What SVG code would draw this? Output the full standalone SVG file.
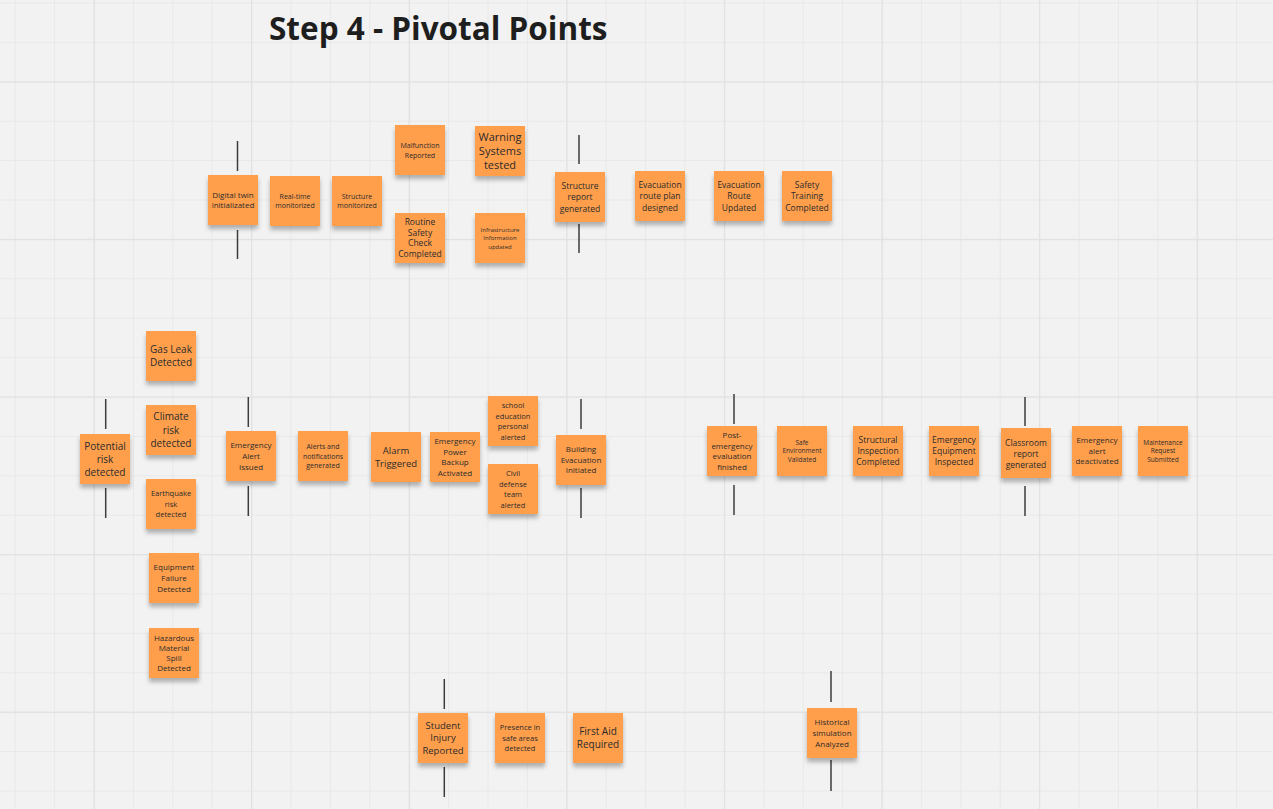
<svg xmlns="http://www.w3.org/2000/svg" width="1273" height="809" viewBox="0 0 1273 809">
<style>
.n{fill:#ff9f4c;filter:url(#sh)}
.t{font-family:"Open Sans","Noto Sans","Liberation Sans",sans-serif;fill:#2b2b2b;text-anchor:middle}
.title{font-family:"Open Sans","Noto Sans","Liberation Sans",sans-serif;font-weight:700;font-size:31.5px;fill:#1e1e1e}
.c line{stroke:#3c3c3c;stroke-width:1.5}
</style>
<defs>
<pattern id="gmin" patternUnits="userSpaceOnUse" x="14.7" y="2.5" width="39.4" height="39.4">
<rect x="0" y="0" width="1" height="39.4" fill="#e8e8e8"/><rect x="0" y="0" width="39.4" height="1" fill="#e8e8e8"/>
</pattern>
<pattern id="gmaj" patternUnits="userSpaceOnUse" x="93.5" y="81.3" width="157.6" height="157.6">
<rect x="0" y="0" width="1.2" height="157.6" fill="#e1e1e1"/><rect x="0" y="0" width="157.6" height="1.2" fill="#e1e1e1"/>
</pattern>
<filter id="sh" x="-20%" y="-20%" width="140%" height="150%">
<feDropShadow dx="0" dy="4" stdDeviation="2.2" flood-color="#000" flood-opacity="0.28"/>
</filter>
</defs>
<rect width="1273" height="809" fill="#f2f2f2"/>
<rect width="1273" height="809" fill="url(#gmin)"/>
<rect width="1273" height="809" fill="url(#gmaj)"/>
<text class="title" x="269" y="40">Step 4 - Pivotal Points</text>
<g class="c" id="connectors">
<line x1="237.5" y1="141" x2="237.5" y2="171"/><line x1="237.5" y1="230" x2="237.5" y2="259"/>
<line x1="579" y1="135" x2="579" y2="164"/><line x1="579" y1="224" x2="579" y2="253"/>
<line x1="105.7" y1="399" x2="105.7" y2="429"/><line x1="105.7" y1="488" x2="105.7" y2="518"/>
<line x1="248.3" y1="397" x2="248.3" y2="427"/><line x1="248.3" y1="486" x2="248.3" y2="516"/>
<line x1="581" y1="399" x2="581" y2="429"/><line x1="581" y1="488" x2="581" y2="518"/>
<line x1="734" y1="394" x2="734" y2="424"/><line x1="734" y1="485" x2="734" y2="515"/>
<line x1="1025" y1="397" x2="1025" y2="426"/><line x1="1025" y1="486" x2="1025" y2="516"/>
<line x1="444.3" y1="679" x2="444.3" y2="709"/><line x1="444.3" y1="767" x2="444.3" y2="797"/>
<line x1="831" y1="671" x2="831" y2="702"/><line x1="831" y1="760" x2="831" y2="791"/>
</g>
<g id="digital-twin"><rect class="n" x="208" y="175" width="50" height="50"/><text class="t" font-size="8"><tspan x="233" y="197.9">Digital twin</tspan><tspan x="233" y="207.9">initializated</tspan></text></g>
<g id="real-time"><rect class="n" x="270" y="176" width="50" height="50"/><text class="t" font-size="7"><tspan x="295" y="198.8">Real-time</tspan><tspan x="295" y="208.3">monitorized</tspan></text></g>
<g id="structure-monitorized"><rect class="n" x="332" y="176" width="50" height="50"/><text class="t" font-size="7"><tspan x="357" y="198.8">Structure</tspan><tspan x="357" y="208.3">monitorized</tspan></text></g>
<g id="malfunction"><rect class="n" x="395" y="125" width="50" height="50"/><text class="t" font-size="7"><tspan x="420" y="147.5">Malfunction</tspan><tspan x="420" y="157.5">Reported</tspan></text></g>
<g id="warning"><rect class="n" x="475" y="126" width="50" height="50"/><text class="t" font-size="11"><tspan x="500" y="141">Warning</tspan><tspan x="500" y="155">Systems</tspan><tspan x="500" y="169">tested</tspan></text></g>
<g id="routine"><rect class="n" x="395" y="213" width="50" height="50"/><text class="t" font-size="8.5"><tspan x="420" y="225.3">Routine</tspan><tspan x="420" y="235.8">Safety</tspan><tspan x="420" y="246.3">Check</tspan><tspan x="420" y="256.8">Completed</tspan></text></g>
<g id="infrastructure"><rect class="n" x="475" y="213" width="50" height="50"/><text class="t" font-size="6"><tspan x="500" y="231.9">Infrastructure</tspan><tspan x="500" y="240.2">Information</tspan><tspan x="500" y="248.5">updated</tspan></text></g>
<g id="structure-report"><rect class="n" x="555" y="172" width="50" height="50"/><text class="t" font-size="8.5"><tspan x="580" y="188.6">Structure</tspan><tspan x="580" y="200.1">report</tspan><tspan x="580" y="211.6">generated</tspan></text></g>
<g id="evac-plan"><rect class="n" x="635" y="171" width="50" height="50"/><text class="t" font-size="8.5"><tspan x="660" y="187.6">Evacuation</tspan><tspan x="660" y="199.1">route plan</tspan><tspan x="660" y="210.6">designed</tspan></text></g>
<g id="evac-updated"><rect class="n" x="714" y="171" width="50" height="50"/><text class="t" font-size="8.5"><tspan x="739" y="187.6">Evacuation</tspan><tspan x="739" y="199.1">Route</tspan><tspan x="739" y="210.6">Updated</tspan></text></g>
<g id="safety-training"><rect class="n" x="782" y="171" width="50" height="50"/><text class="t" font-size="8.5"><tspan x="807" y="187.6">Safety</tspan><tspan x="807" y="199.1">Training</tspan><tspan x="807" y="210.6">Completed</tspan></text></g>
<g id="gas-leak"><rect class="n" x="146" y="331" width="50" height="50"/><text class="t" font-size="10"><tspan x="171" y="353.3">Gas Leak</tspan><tspan x="171" y="366">Detected</tspan></text></g>
<g id="climate"><rect class="n" x="146" y="405" width="50" height="50"/><text class="t" font-size="10"><tspan x="171" y="420.3">Climate</tspan><tspan x="171" y="433.6">risk</tspan><tspan x="171" y="446.9">detected</tspan></text></g>
<g id="potential"><rect class="n" x="80" y="434" width="50" height="50"/><text class="t" font-size="10"><tspan x="105" y="449.6">Potential</tspan><tspan x="105" y="462.6">risk</tspan><tspan x="105" y="475.6">detected</tspan></text></g>
<g id="earthquake"><rect class="n" x="146" y="479" width="50" height="50"/><text class="t" font-size="7.5"><tspan x="171" y="496.2">Earthquake</tspan><tspan x="171" y="506.7">risk</tspan><tspan x="171" y="517.2">detected</tspan></text></g>
<g id="equipment-failure"><rect class="n" x="149" y="553" width="50" height="50"/><text class="t" font-size="8"><tspan x="174" y="569.9">Equipment</tspan><tspan x="174" y="580.9">Failure</tspan><tspan x="174" y="591.9">Detected</tspan></text></g>
<g id="hazardous"><rect class="n" x="149" y="628" width="50" height="50"/><text class="t" font-size="8"><tspan x="174" y="640.5">Hazardous</tspan><tspan x="174" y="650.8">Material</tspan><tspan x="174" y="661.1">Spill</tspan><tspan x="174" y="671.4">Detected</tspan></text></g>
<g id="emergency-alert"><rect class="n" x="226" y="431" width="50" height="50"/><text class="t" font-size="8"><tspan x="251" y="448.2">Emergency</tspan><tspan x="251" y="458.9">Alert</tspan><tspan x="251" y="469.6">Issued</tspan></text></g>
<g id="alerts-notifications"><rect class="n" x="298" y="431" width="50" height="50"/><text class="t" font-size="7"><tspan x="323" y="448.8">Alerts and</tspan><tspan x="323" y="458.5">notifications</tspan><tspan x="323" y="468.2">generated</tspan></text></g>
<g id="alarm"><rect class="n" x="371" y="432" width="50" height="50"/><text class="t" font-size="9.5"><tspan x="396" y="454.3">Alarm</tspan><tspan x="396" y="466.6">Triggered</tspan></text></g>
<g id="power-backup"><rect class="n" x="430" y="432" width="50" height="50"/><text class="t" font-size="8"><tspan x="455" y="444.2">Emergency</tspan><tspan x="455" y="454.7">Power</tspan><tspan x="455" y="465.2">Backup</tspan><tspan x="455" y="475.7">Activated</tspan></text></g>
<g id="school"><rect class="n" x="488" y="396" width="50" height="50"/><text class="t" font-size="7.5"><tspan x="513" y="408">school</tspan><tspan x="513" y="418.5">education</tspan><tspan x="513" y="429">personal</tspan><tspan x="513" y="439.5">alerted</tspan></text></g>
<g id="civil-defense"><rect class="n" x="488" y="464" width="50" height="50"/><text class="t" font-size="7.5"><tspan x="513" y="476">Civil</tspan><tspan x="513" y="486.5">defense</tspan><tspan x="513" y="497">team</tspan><tspan x="513" y="507.5">alerted</tspan></text></g>
<g id="building-evacuation"><rect class="n" x="556" y="435" width="50" height="50"/><text class="t" font-size="8"><tspan x="581" y="452.4">Building</tspan><tspan x="581" y="462.9">Evacuation</tspan><tspan x="581" y="473.4">Initiated</tspan></text></g>
<g id="post-emergency"><rect class="n" x="707" y="426" width="50" height="50"/><text class="t" font-size="8"><tspan x="732" y="438.2">Post-</tspan><tspan x="732" y="448.7">emergency</tspan><tspan x="732" y="459.2">evaluation</tspan><tspan x="732" y="469.7">finished</tspan></text></g>
<g id="safe-environment"><rect class="n" x="777" y="426" width="50" height="50"/><text class="t" font-size="6.5"><tspan x="802" y="444.6">Safe</tspan><tspan x="802" y="453.3">Environment</tspan><tspan x="802" y="462">Validated</tspan></text></g>
<g id="structural-inspection"><rect class="n" x="853" y="426" width="50" height="50"/><text class="t" font-size="8.5"><tspan x="878" y="443.1">Structural</tspan><tspan x="878" y="454.1">Inspection</tspan><tspan x="878" y="465.1">Completed</tspan></text></g>
<g id="equipment-inspected"><rect class="n" x="929" y="426" width="50" height="50"/><text class="t" font-size="8.5"><tspan x="954" y="443.1">Emergency</tspan><tspan x="954" y="454.1">Equipment</tspan><tspan x="954" y="465.1">Inspected</tspan></text></g>
<g id="classroom-report"><rect class="n" x="1001" y="428" width="50" height="50"/><text class="t" font-size="8.5"><tspan x="1026" y="445.6">Classroom</tspan><tspan x="1026" y="456.6">report</tspan><tspan x="1026" y="467.6">generated</tspan></text></g>
<g id="alert-deactivated"><rect class="n" x="1072" y="426" width="50" height="50"/><text class="t" font-size="8"><tspan x="1097" y="443.4">Emergency</tspan><tspan x="1097" y="453.9">alert</tspan><tspan x="1097" y="464.4">deactivated</tspan></text></g>
<g id="maintenance"><rect class="n" x="1138" y="426" width="50" height="50"/><text class="t" font-size="6.5"><tspan x="1163" y="444.6">Maintenance</tspan><tspan x="1163" y="453.3">Request</tspan><tspan x="1163" y="462">Submitted</tspan></text></g>
<g id="student-injury"><rect class="n" x="418" y="713" width="50" height="50"/><text class="t" font-size="9.5"><tspan x="443" y="728.7">Student</tspan><tspan x="443" y="741.4">Injury</tspan><tspan x="443" y="754.1">Reported</tspan></text></g>
<g id="presence-safe"><rect class="n" x="495" y="713" width="50" height="50"/><text class="t" font-size="7.5"><tspan x="520" y="730">Presence in</tspan><tspan x="520" y="740.7">safe areas</tspan><tspan x="520" y="751.4">detected</tspan></text></g>
<g id="first-aid"><rect class="n" x="573" y="713" width="50" height="50"/><text class="t" font-size="10"><tspan x="598" y="735.1">First Aid</tspan><tspan x="598" y="748.1">Required</tspan></text></g>
<g id="historical"><rect class="n" x="807" y="708" width="50" height="50"/><text class="t" font-size="8"><tspan x="832" y="725.1">Historical</tspan><tspan x="832" y="735.9">simulation</tspan><tspan x="832" y="746.7">Analyzed</tspan></text></g>
</svg>
